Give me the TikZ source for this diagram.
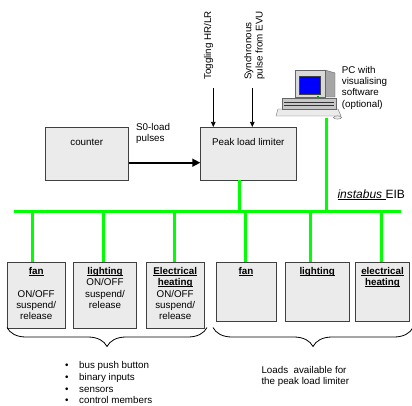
\documentclass[tikz,border=0pt]{standalone}
\usepackage{fontspec}
\setmainfont{Liberation Sans}
\usetikzlibrary{arrows.meta}
\usetikzlibrary{decorations.pathreplacing}

%underline drawn through the descenders, as in the reference
\newcommand{\ulined}[1]{\setbox0\hbox{#1}\rlap{\rule[-1.4pt]{\wd0}{0.75pt}}\box0}

\begin{document}
\begin{tikzpicture}[x=1pt,y=-1pt,
	box/.style={draw=black!75, fill=black!8, line width=0.8pt, inner sep=0pt},
	boxtext/.style={align=center, anchor=north, inner sep=0pt, font=\fontsize{9.8pt}{11.3pt}\selectfont},
	plain/.style={inner sep=0pt, font=\fontsize{9.8pt}{11.1pt}\selectfont},
	bus/.style={draw=green, line width=2.7pt},
	signal/.style={-{Triangle[length=5pt,width=4.5pt]}, line width=0.6pt},
	brace/.style={decorate, decoration={brace, mirror, amplitude=19pt}, line width=0.8pt}]

	%picture size, same as the reference
	\useasboundingbox (0,0) rectangle (412,405);

	%declare constants
	\def\busY{211.7}
	\def\boxTop{262.3}

	%counter and peak load limiter
	\node[box, minimum width=83.3pt, minimum height=52.7pt] (counter) at (86.7,153.7) {};
	\node[box, minimum width=95.3pt, minimum height=52.7pt] (limiter) at (248.3,153.7) {};
	\node[plain, anchor=base] (counterTxt) at (86.7,145.3) {counter};
	\node[plain, anchor=base] (limiterTxt) at (248.3,145.5) {Peak load limiter};
	\node[plain, align=left, anchor=north west] (s0Txt) at (136,123.4) {S0-load\\pulses};
	\draw[line width=1.7pt, -{Triangle[length=8pt,width=8pt]}] ([yshift=-9pt]counter.east) -- ([yshift=-9pt]limiter.west);

	%signals from above
	\coordinate (toggle) at (213.3,88);
	\coordinate (sync) at (252.3,88);
	\draw[signal] (toggle) -- (toggle |- limiter.north);
	\draw[signal] (sync) -- (sync |- limiter.north);
	\node[plain, rotate=90, anchor=west] (toggleTxt) at (208.5,80) {Toggling HR/LR};
	\node[plain, rotate=90, anchor=west, align=left] (syncTxt) at (254.5,80) {Synchronous\\pulse from EVU};

	%PC, drawn directly
	\filldraw[fill=black!8, draw=black!55, line width=0.4pt] (278,109) -- (338,109) -- (341,116) -- (276,116) -- cycle;
	\filldraw[fill=black!22, draw=black!60, line width=0.4pt] (282,98) rectangle (336,109);
	\draw[black!80, line width=0.9pt] (284,102) -- (334,102);
	\draw[black!80, line width=0.9pt] (284,105.5) -- (334,105.5);
	\filldraw[fill=black!35, draw=black!60, line width=0.4pt] (325,70) -- (335,73) -- (335,97) -- (325,97) -- cycle;
	\filldraw[fill=black!15, draw=black!60, line width=0.4pt] (295,70) rectangle (325,97);
	\filldraw[fill=blue, draw=black!75, line width=0.6pt] (299,76) rectangle (320,94);
	\fill[green!60!black] (317,95.5) rectangle (319,96.5);
	\filldraw[fill=black!8, draw=black!55, line width=0.4pt] (337.5,117.5) ellipse (4pt and 1.6pt);
	\node[plain, align=left, anchor=north west] (pcTxt) at (341.7,66.4) {PC with\\visualising\\software\\(optional)};
	\coordinate (pcPort) at (326.7,118);

	%instabus EIB line
	\coordinate (busW) at (14,\busY);
	\coordinate (busE) at (401,\busY);
	\draw[bus] (busW) -- (busE);
	\draw[bus] ([xshift=-9pt]limiter.south) -- ([xshift=-9pt]limiter.south |- busW);
	\draw[bus] (pcPort) -- (pcPort |- busW);
	\node[anchor=base west, inner sep=0pt, font=\fontsize{12pt}{14pt}\selectfont] (busTxt) at (337.3,198.3) {\ulined{\textit{instabus} }EIB};

	%control devices
	\node[box, minimum width=57.7pt, minimum height=66pt, anchor=north] (fanCtrl) at (36.2,\boxTop) {};
	\node[box, minimum width=63.4pt, minimum height=66pt, anchor=north] (lightCtrl) at (105,\boxTop) {};
	\node[box, minimum width=58.3pt, minimum height=66pt, anchor=north] (heatCtrl) at (175.2,\boxTop) {};
	\node[boxtext] (fanCtrlTxt) at ([yshift=-4.9pt]fanCtrl.north) {\ulined{\textbf{fan}}\\[11.3pt]ON/OFF\\suspend/\\release};
	\node[boxtext] (lightCtrlTxt) at ([yshift=-4.9pt]lightCtrl.north) {\ulined{\textbf{lighting}}\\ON/OFF\\suspend/\\release};
	\node[boxtext] (heatCtrlTxt) at ([yshift=-4.9pt]heatCtrl.north) {\ulined{\textbf{Electrical}}\\\ulined{\textbf{heating}}\\ON/OFF\\suspend/\\release};

	%loads
	\node[box, minimum width=60pt, minimum height=58.4pt, anchor=north] (fanLoad) at (246,\boxTop) {};
	\node[box, minimum width=63.5pt, minimum height=58.4pt, anchor=north] (lightLoad) at (317.2,\boxTop) {};
	\node[box, minimum width=54pt, minimum height=58.4pt, anchor=north] (heatLoad) at (382.5,\boxTop) {};
	\node[boxtext] (fanLoadTxt) at ([yshift=-4.9pt]fanLoad.north) {\ulined{\textbf{fan}}};
	\node[boxtext] (lightLoadTxt) at ([yshift=-4.9pt]lightLoad.north) {\ulined{\textbf{lighting}}};
	\node[boxtext] (heatLoadTxt) at ([yshift=-4.9pt]heatLoad.north) {\ulined{\textbf{electrical}}\\\ulined{\textbf{heating}}};

	%drops from the bus
	\coordinate (dropA) at (32.3,\busY);
	\coordinate (dropB) at (103.3,\busY);
	\coordinate (dropC) at (174.3,\busY);
	\coordinate (dropD) at (245.7,\busY);
	\coordinate (dropE) at (310.7,\busY);
	\coordinate (dropF) at (381.7,\busY);
	\draw[bus] (dropA) -- (dropA |- fanCtrl.north);
	\draw[bus] (dropB) -- (dropB |- lightCtrl.north);
	\draw[bus] (dropC) -- (dropC |- heatCtrl.north);
	\draw[bus] (dropD) -- (dropD |- fanLoad.north);
	\draw[bus] (dropE) -- (dropE |- lightLoad.north);
	\draw[bus] (dropF) -- (dropF |- heatLoad.north);

	%braces and their texts
	\coordinate (braceLW) at (7,327.5);
	\coordinate (braceLE) at (207,327.5);
	\coordinate (braceRW) at (213,327.5);
	\coordinate (braceRE) at (413,327.5);
	\draw[brace] (braceLW) -- (braceLE);
	\draw[brace] (braceRW) -- (braceRE);
	\node[plain, anchor=base west] (itemA) at (65,368.3) {\textbullet\hspace{10.6pt}bus push button};
	\node[plain, anchor=base west] (itemB) at (65,380.8) {\textbullet\hspace{10.6pt}binary inputs};
	\node[plain, anchor=base west] (itemC) at (65,392.4) {\textbullet\hspace{10.6pt}sensors};
	\node[plain, anchor=base west] (itemD) at (65,403.6) {\textbullet\hspace{10.6pt}control members};
	\node[plain, align=left, anchor=north west] (loadsTxt) at (261.3,366.4) {Loads~ available for\\the peak load limiter};

\end{tikzpicture}
\end{document}
